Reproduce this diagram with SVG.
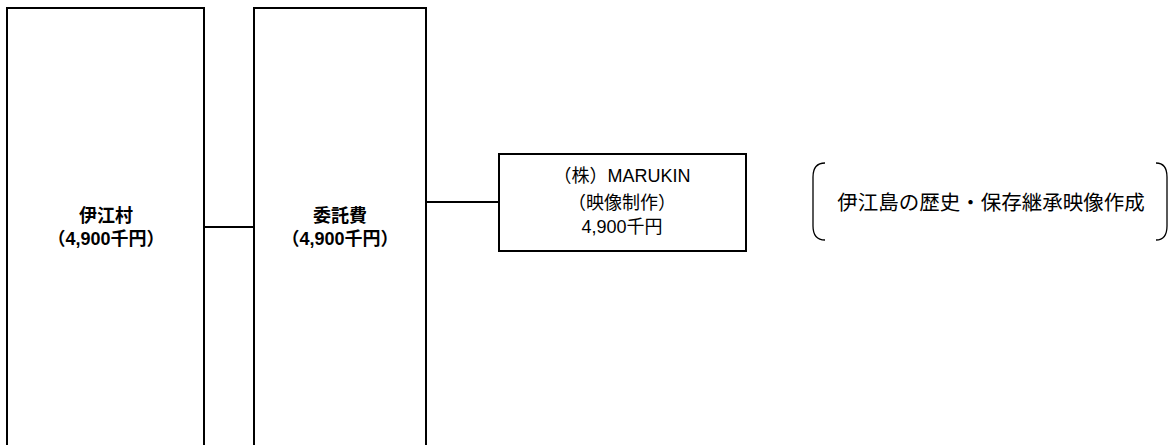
<svg xmlns="http://www.w3.org/2000/svg" width="1168" height="445" viewBox="0 0 1168 445">
<style>
.box{fill:#fff;stroke:#000;stroke-width:2}
.ln{fill:none;stroke:#000;stroke-width:2}
.br{fill:none;stroke:#000;stroke-width:1.3}
text{font-family:"Liberation Sans","Noto Sans CJK JP",sans-serif;fill:#000;text-anchor:middle}
.b{font-weight:bold;font-size:18px}
.n{font-size:18px}
.l{font-size:20.5px}
</style>
<rect width="1168" height="445" fill="#fff"/>
<g id="connectors">
<line class="ln" x1="204" y1="227" x2="254" y2="227"/>
<line class="ln" x1="426" y1="202" x2="499" y2="202"/>
</g>
<g id="iemura">
<rect class="box" x="7" y="8" width="197" height="460"/>
<text class="b" x="106" y="222">伊江村</text>
<text class="b" x="106" y="245">（4,900千円）</text>
</g>
<g id="itakuhi">
<rect class="box" x="254" y="8" width="172" height="460"/>
<text class="b" x="340" y="222">委託費</text>
<text class="b" x="340" y="245">（4,900千円）</text>
</g>
<g id="marukin">
<rect class="box" x="499" y="154" width="247" height="97"/>
<text class="n" x="622" y="182">（株）MARUKIN</text>
<text class="n" x="622" y="209">（映像制作）</text>
<text class="n" x="622" y="233">4,900千円</text>
</g>
<g id="note">
<path class="br" d="M825 163 Q813 163 813 177 L813 226 Q813 240 825 240"/>
<path class="br" d="M1156 163 Q1167 163 1167 177 L1167 226 Q1167 240 1156 240"/>
<text class="l" x="991" y="210">伊江島の歴史・保存継承映像作成</text>
</g>
</svg>
